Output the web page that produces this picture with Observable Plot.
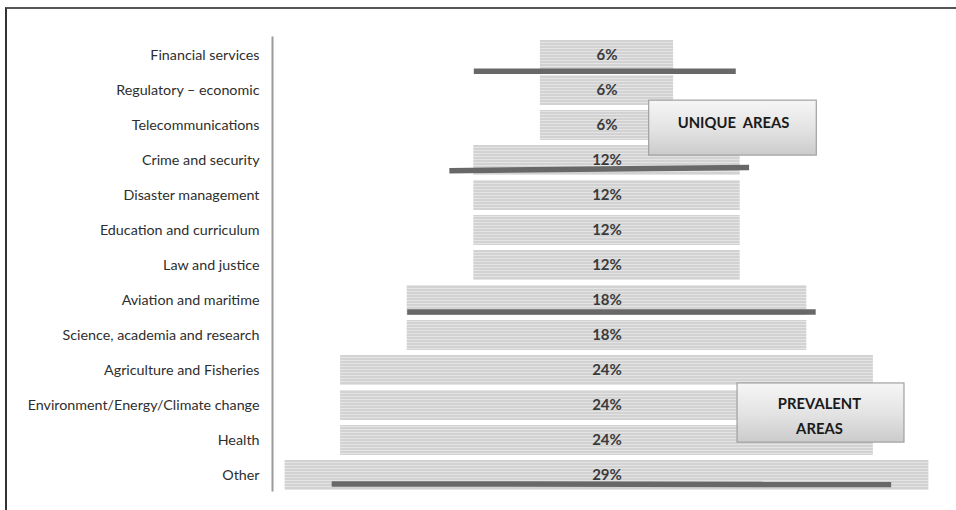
<!DOCTYPE html>
<html>
<head>
<meta charset="utf-8">
<script src="https://cdn.jsdelivr.net/npm/d3@7"></script>
<script src="https://cdn.jsdelivr.net/npm/@observablehq/plot@0.6"></script>
<style>
  body { margin: 0; background: #fff; }
  #wrap { position: relative; width: 956px; height: 510px; overflow: hidden; }
  #edge { position: absolute; left: 5px; top: 7px; right: -10px; bottom: -10px;
          border-left: 2px solid #333; border-top: 2px solid #555; pointer-events: none; }
  #wrap svg { position: absolute; left: 0; top: 0; }
</style>
</head>
<body>
<div id="wrap"><div id="edge"></div></div>
<script>
// Sectors, top to bottom, and the share of respondents naming each one (%)
const categories = [
  "Financial services",
  "Regulatory \u2013 economic",
  "Telecommunications",
  "Crime and security",
  "Disaster management",
  "Education and curriculum",
  "Law and justice",
  "Aviation and maritime",
  "Science, academia and research",
  "Agriculture and Fisheries",
  "Environment/Energy/Climate change",
  "Health",
  "Other"
];
const shares = [6, 6, 6, 12, 12, 12, 12, 18, 18, 24, 24, 24, 29];

// Dark divider strokes (x in percentage points from the centre line, y in rows)
const dividers = [
  {x1: -6.0, x2: 5.8, y1: 0.45, y2: 0.45},
  {x1: -7.1, x2: 6.4, y1: 3.29, y2: 3.20},
  {x1: -9.0, x2: 9.4, y1: 7.33, y2: 7.33},
  {x1: -12.4, x2: 12.8, y1: 12.24, y2: 12.26}
];

// Call-out boxes and their captions
const calloutBoxes = [
  {x1: 1.9, x2: 9.45, y1: 1.29, y2: 2.86},
  {x1: 5.88, x2: 13.4, y1: 9.37, y2: 11.06}
];
const calloutTexts = [
  {x: 5.7, y: 1.86, text: "UNIQUE  AREAS"},
  {x: 9.57, y: 10.23, text: "PREVALENT\nAREAS"}
];

const rows = categories.map((name, i) => ({name, i, share: shares[i]}));
const halfBar = 15 / 35; // bar thickness as a fraction of the row pitch

const chart = Plot.plot({
  width: 956,
  height: 510,
  marginLeft: 272,
  marginRight: 10,
  marginTop: 37,
  marginBottom: 20,
  style: {fontFamily: "Lato, 'Open Sans', sans-serif", background: "transparent"},
  x: {domain: [-15, 15], range: [273.5, 939.5], axis: null},
  y: {domain: [0, 12], range: [55, 475], axis: null},
  marks: [
    Plot.frame({anchor: "left", stroke: "#9a9a9a", strokeWidth: 2}),
    Plot.axisY(d3.range(categories.length), {
      anchor: "left",
      tickSize: 0,
      tickPadding: 13,
      tickFormat: i => categories[i],
      fontSize: 14.3,
      fill: "#2e2e2e",
      label: null
    }),
    Plot.rect(rows, {
      x1: d => -d.share / 2,
      x2: d => d.share / 2,
      y1: d => d.i - halfBar,
      y2: d => d.i + halfBar,
      fill: "url(#barStripe)"
    }),
    Plot.text(rows, {
      x: 0,
      y: "i",
      text: d => d.share + "%",
      fontSize: 15,
      fontWeight: "bold",
      fill: "#3a3a3a"
    }),
    Plot.link(dividers, {
      x1: "x1", x2: "x2", y1: "y1", y2: "y2",
      stroke: "#686868",
      strokeWidth: 5.5,
      strokeLinecap: "butt",
      ariaLabel: "divider"
    }),
    Plot.rect(calloutBoxes, {
      x1: "x1", x2: "x2", y1: "y1", y2: "y2",
      fill: "url(#calloutShade)",
      stroke: "#a0a0a0",
      strokeWidth: 1.2,
      ariaLabel: "callout"
    }),
    Plot.text(calloutTexts, {
      x: "x", y: "y", text: "text",
      fontSize: 14.8,
      fontWeight: "bold",
      fill: "#1a1a1a",
      lineHeight: 1.65
    })
  ]
});

// Fill patterns: striped bars and shaded call-out boxes
const defs = d3.select(chart).insert("defs", ":first-child");
const stripe = defs.append("pattern")
  .attr("id", "barStripe").attr("patternUnits", "userSpaceOnUse")
  .attr("width", 6).attr("height", 3);
stripe.append("rect").attr("width", 6).attr("height", 3).attr("fill", "#d2d2d2");
stripe.append("rect").attr("width", 6).attr("height", 1).attr("fill", "#e4e4e4");

const shade = defs.append("linearGradient")
  .attr("id", "calloutShade").attr("x1", 0).attr("y1", 0).attr("x2", 0).attr("y2", 1);
shade.append("stop").attr("offset", "0%").attr("stop-color", "#f6f6f6");
shade.append("stop").attr("offset", "55%").attr("stop-color", "#e2e2e2");
shade.append("stop").attr("offset", "100%").attr("stop-color", "#cbcbcb");

d3.select(chart).select("g[aria-label=callout]")
  .style("filter", "drop-shadow(2px 3px 2px rgba(0,0,0,0.35))");
d3.select(chart).select("g[aria-label=divider]")
  .style("filter", "drop-shadow(1px 2px 1px rgba(0,0,0,0.25))");

document.getElementById("wrap").appendChild(chart);
</script>
</body>
</html>
